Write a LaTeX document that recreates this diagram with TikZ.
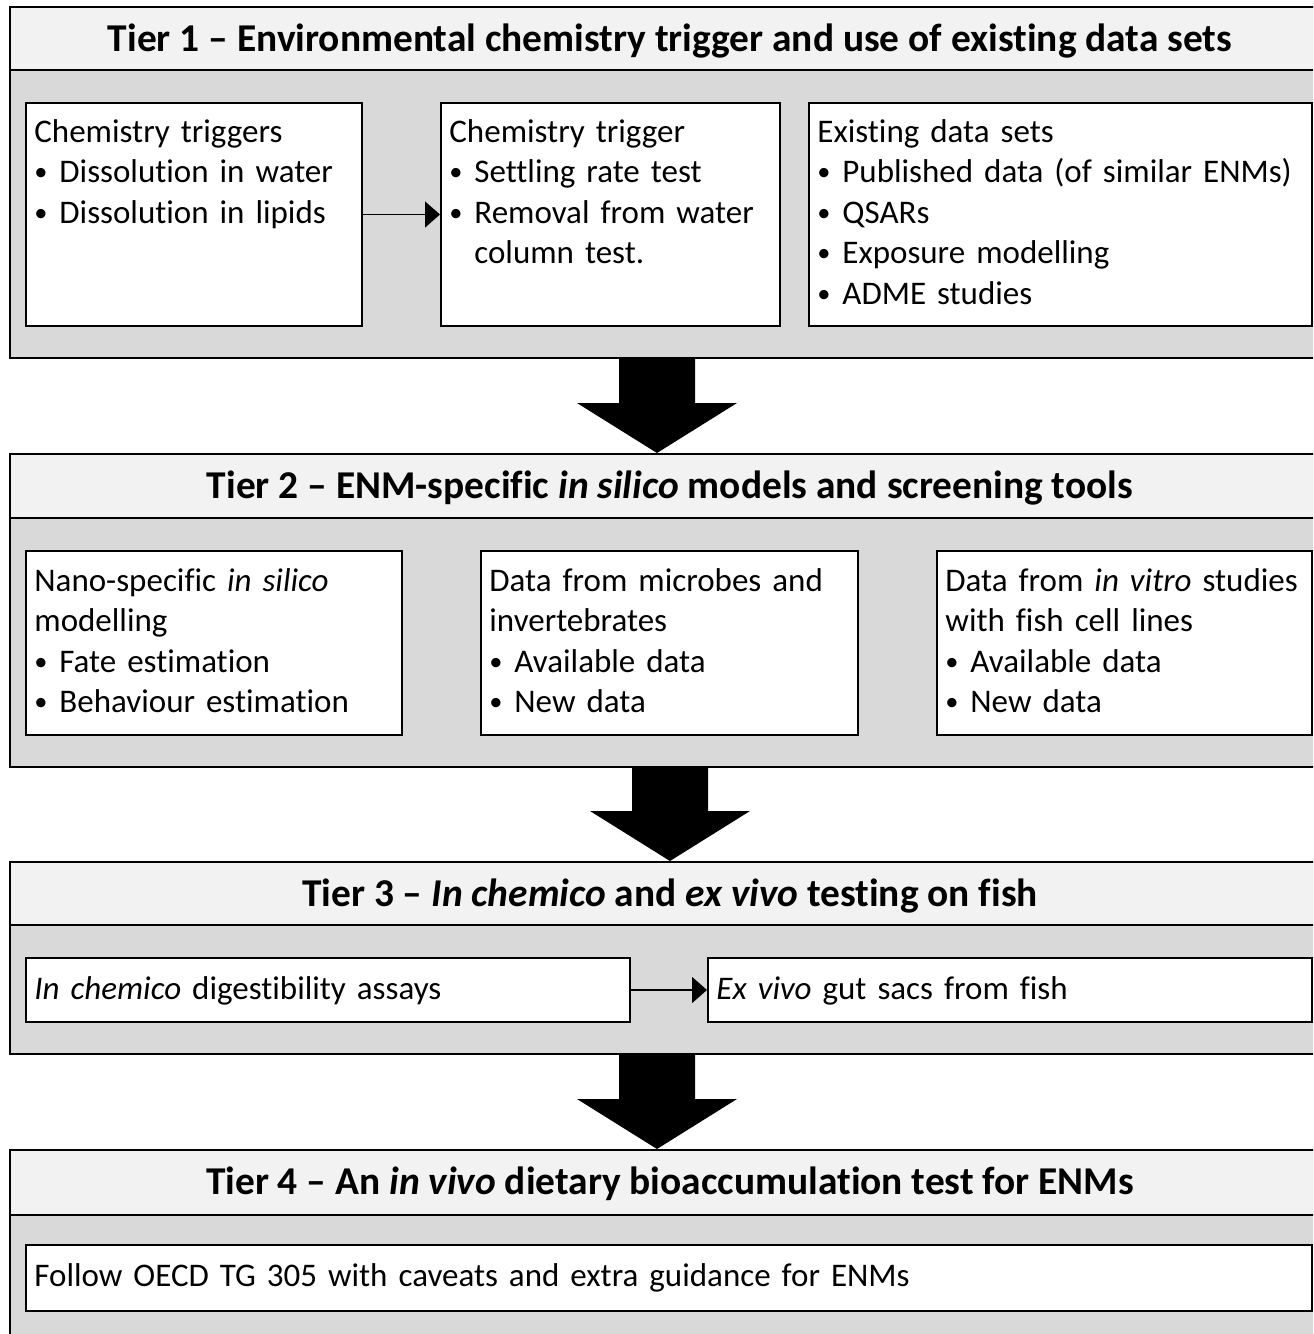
\documentclass[tikz,border=0pt]{standalone}
\usepackage{fontspec}
\setmainfont{Carlito}[Ligatures=NoCommon]
\usetikzlibrary{arrows.meta, positioning, calc, fit}
\definecolor{tierbg}{HTML}{D9D9D9}
\definecolor{headbg}{HTML}{F2F2F2}
\newcommand{\bul}{\makebox[12.5pt][l]{\raisebox{0.12ex}{\scalebox{0.8}{\textbullet}}}}
% big block arrow between two tiers: #1 start, #2 tip
\newcommand{\bigarrow}[2]{%
  \fill ($(#1)+(-38,0)$) -- ($(#1)+(38,0)$) -- ($(#2)+(38,-50)$) -- ($(#2)+(80,-50)$)
    -- (#2) -- ($(#2)+(-80,-50)$) -- ($(#2)+(-38,-50)$) -- cycle;}

\begin{document}
\begin{tikzpicture}[
    x=0.5pt, y=-0.5pt,
    tier/.style={draw, line width=1pt, fill=tierbg, inner sep=0pt},
    head/.style={draw, line width=1pt, fill=headbg, inner sep=0pt},
    box/.style={draw, line width=1pt, fill=white, inner sep=0pt},
    title/.style={anchor=base, inner sep=0pt, font=\fontsize{19.7}{23}\selectfont\bfseries},
    txt/.style={anchor=base west, inner sep=0pt, text width=640pt, font=\fontsize{16.5}{20.25}\selectfont\raggedright},
    arr/.style={-{Triangle[length=7.5pt, width=13pt]}, line width=0.75pt}
]
\useasboundingbox (0,0) rectangle (1313,1334);
\clip (0,0) rectangle (1313,1334);

% Tier 1
\node[tier, fit={(10,7) (1330,358)}] (tier1) {};
\node[head, fit={(10,7) (1330,70)}] (head1) {};
\node[title] (ttl1) at ($(head1.north)+(0,45)$) {Tier 1 -- Environmental chemistry trigger and use of existing data sets};
\node[box, fit={(26,103) (362,326)}] (trig) {};
\node[box, fit={(441,103) (780,326)}] (settle) {};
\node[box, fit={(809,103) (1312,326)}] (exist) {};
\node[txt] (trigtxt) at ($(trig.north west)+(9,40)$) {Chemistry triggers\\ \bul Dissolution in water\\ \bul Dissolution in lipids};
\node[txt] (settletxt) at ($(settle.north west)+(9,40)$) {Chemistry trigger\\ \bul Settling rate test\\ \bul Removal from water\\ \hspace*{12.5pt}column test.};
\node[txt] (existtxt) at ($(exist.north west)+(9,40)$) {Existing data sets\\ \bul Published data (of similar ENMs)\\ \bul QSARs\\ \bul Exposure modelling\\ \bul ADME studies};
\draw[arr] (trig) -- (settle);

% Tier 2
\node[tier, fit={(10,454) (1330,767)}] (tier2) {};
\node[head, fit={(10,454) (1330,518)}] (head2) {};
\node[title] (ttl2) at ($(head2.north)+(0,45)$) {Tier 2 -- ENM-specific \textit{in silico} models and screening tools};
\node[box, fit={(26,551) (402,735)}] (silico) {};
\node[box, fit={(481,551) (858,735)}] (microbe) {};
\node[box, fit={(937,551) (1312,735)}] (vitro) {};
\node[txt] (silicotxt) at ($(silico.north west)+(9,41)$) {Nano-specific \textit{in silico}\\ modelling\\ \bul Fate estimation\\ \bul Behaviour estimation};
\node[txt] (microbetxt) at ($(microbe.north west)+(9,41)$) {Data from microbes and\\ invertebrates\\ \bul Available data\\ \bul New data};
\node[txt] (vitrotxt) at ($(vitro.north west)+(9,41)$) {Data from \textit{in vitro} studies\\ with fish cell lines\\ \bul Available data\\ \bul New data};

% Tier 3
\node[tier, fit={(10,862) (1330,1054)}] (tier3) {};
\node[head, fit={(10,862) (1330,925)}] (head3) {};
\node[title] (ttl3) at ($(head3.north)+(0,45)$) {Tier 3 -- \textit{In chemico} and \textit{ex vivo} testing on fish};
\node[box, fit={(26,958) (630,1022)}] (chemico) {};
\node[box, fit={(708,958) (1312,1022)}] (exvivo) {};
\node[txt] (chemicotxt) at ($(chemico.north west)+(9,42)$) {\textit{In chemico} digestibility assays};
\node[txt] (exvivotxt) at ($(exvivo.north west)+(9,42)$) {\textit{Ex vivo} gut sacs from fish};
\draw[arr] (chemico) -- (exvivo);

% Tier 4
\node[tier, fit={(10,1150) (1330,1360)}] (tier4) {};
\node[head, fit={(10,1150) (1330,1215)}] (head4) {};
\node[title] (ttl4) at ($(head4.north)+(0,45)$) {Tier 4 -- An \textit{in vivo} dietary bioaccumulation test for ENMs};
\node[box, fit={(26,1245) (1312,1311)}] (oecd) {};
\node[txt] (oecdtxt) at ($(oecd.north west)+(9,42)$) {Follow OECD TG 305 with caveats and extra guidance for ENMs};

% block arrows between tiers
\coordinate (a1s) at ($(tier1.south)+(-13,0)$);
\coordinate (a1e) at ($(tier2.north)+(-13,0)$);
\coordinate (a2s) at (tier2.south);
\coordinate (a2e) at (tier3.north);
\coordinate (a3s) at ($(tier3.south)+(-13,0)$);
\coordinate (a3e) at ($(tier4.north)+(-13,0)$);
\bigarrow{a1s}{a1e}
\bigarrow{a2s}{a2e}
\bigarrow{a3s}{a3e}
\end{tikzpicture}
\end{document}
